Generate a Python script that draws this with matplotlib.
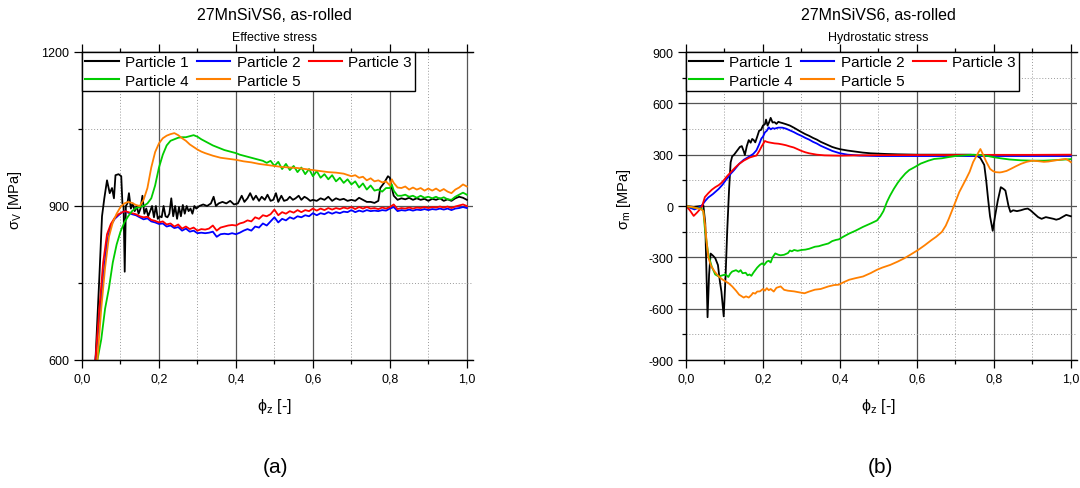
import matplotlib
matplotlib.use("Agg")
import matplotlib.pyplot as plt
from matplotlib.ticker import MultipleLocator, FuncFormatter

plt.rcParams['font.family'] = ['Liberation Sans', 'DejaVu Sans']
plt.rcParams['mathtext.fontset'] = 'custom'
plt.rcParams['mathtext.rm'] = 'Liberation Sans'
plt.rcParams['mathtext.it'] = 'Liberation Sans'
plt.rcParams['axes.unicode_minus'] = False

labels = ["Particle 1", "Particle 2", "Particle 3", "Particle 4", "Particle 5"]
colors = ["#000000", "#0000ff", "#ff0000", "#00cc00", "#ff8000"]

# ---------------- (a) effective stress ----------------
eff_x1 = [0.035, 0.045, 0.052, 0.058, 0.065, 0.072, 0.078, 0.083, 0.087, 0.095, 0.102, 0.105, 0.108, 0.111, 0.114,
          0.118, 0.122, 0.127, 0.132, 0.137, 0.142, 0.147, 0.152, 0.157, 0.162, 0.167, 0.172, 0.177, 0.182, 0.187,
          0.192, 0.197, 0.202, 0.207, 0.212, 0.217, 0.222, 0.227, 0.232, 0.237, 0.242, 0.247, 0.252, 0.257, 0.262,
          0.267, 0.272, 0.277, 0.282, 0.287, 0.292, 0.297, 0.305, 0.315, 0.325, 0.335, 0.342, 0.348, 0.355, 0.365,
          0.375, 0.385, 0.395, 0.405, 0.415, 0.422, 0.43, 0.437, 0.445, 0.452, 0.46, 0.467, 0.475, 0.482, 0.49,
          0.497, 0.504, 0.51, 0.518, 0.525, 0.533, 0.54, 0.548, 0.555, 0.563, 0.57, 0.578, 0.585, 0.593, 0.6,
          0.61, 0.62, 0.63, 0.64, 0.65, 0.66, 0.67, 0.68, 0.69, 0.70, 0.71, 0.72, 0.73, 0.74, 0.75, 0.76, 0.77,
          0.775, 0.785, 0.795, 0.80, 0.805, 0.81, 0.82, 0.83, 0.84, 0.85, 0.86, 0.87, 0.88, 0.89, 0.90, 0.91,
          0.92, 0.93, 0.94, 0.95, 0.96, 0.97, 0.98, 0.99, 1.0]
eff_y1 = [600, 760, 880, 915, 950, 925, 935, 915, 960, 962, 958, 905, 900, 772, 900,
          905, 925, 895, 905, 890, 900, 885, 895, 920, 885, 895, 880, 890, 900, 878,
          900, 875, 880, 878, 900, 880, 878, 885, 915, 880, 900, 875, 898, 880, 902,
          885, 900, 890, 895, 885, 900, 895, 900, 903, 900, 905, 918, 900, 905, 908,
          905, 910, 903, 905, 920, 908, 915, 925, 912, 920, 910, 918, 912, 922, 910,
          912, 925, 908, 920, 910, 912, 918, 912, 915, 920, 912, 918, 915, 910, 912,
          910, 915, 912, 918, 910, 915, 912, 914, 910, 912, 910, 916, 912, 908, 908, 906, 910,
          935, 945, 958, 955, 935, 920, 912, 915, 913, 916, 912, 915, 912, 914, 910, 914,
          912, 915, 910, 913, 910, 915, 918, 916, 912]

eff_x2 = [0.035, 0.045, 0.055, 0.065, 0.075, 0.085, 0.095, 0.105, 0.112, 0.12, 0.13, 0.14, 0.15, 0.16, 0.17,
          0.18, 0.19, 0.2, 0.21, 0.22, 0.23, 0.24, 0.25, 0.26, 0.27, 0.28, 0.29, 0.30, 0.31, 0.32, 0.33, 0.34,
          0.35, 0.36, 0.37, 0.38, 0.39, 0.40, 0.41, 0.42, 0.43, 0.44, 0.45, 0.46, 0.47, 0.48, 0.49, 0.50, 0.51,
          0.52, 0.53, 0.54, 0.55, 0.56, 0.57, 0.58, 0.59, 0.60, 0.61, 0.62, 0.63, 0.64, 0.65, 0.66, 0.67, 0.68,
          0.69, 0.70, 0.71, 0.72, 0.73, 0.74, 0.75, 0.76, 0.77, 0.78, 0.79, 0.80, 0.81, 0.82, 0.83, 0.84, 0.85,
          0.86, 0.87, 0.88, 0.89, 0.90, 0.91, 0.92, 0.93, 0.94, 0.95, 0.96, 0.97, 0.98, 0.99, 1.0]
eff_y2 = [600, 680, 760, 830, 862, 875, 882, 888, 890, 887, 884, 882, 878, 874, 876,
          870, 868, 865, 866, 860, 862, 857, 859, 852, 856, 850, 852, 847, 848, 847, 848, 850,
          840, 845, 846, 845, 847, 845, 848, 852, 855, 852, 860, 858, 866, 862, 870, 878, 868,
          875, 872, 878, 875, 880, 878, 882, 880, 886, 882, 886, 884, 888, 885, 888, 886, 889,
          888, 892, 888, 891, 889, 892, 890, 891, 890, 892, 891, 895, 898, 890, 892, 891, 893,
          891, 893, 892, 894, 892, 894, 893, 895, 893, 895, 892, 895, 896, 898, 896]

eff_x3 = eff_x2
eff_y3 = [600, 700, 790, 845, 865, 877, 884, 888, 890, 888, 886, 884, 880, 878, 879,
          873, 871, 868, 870, 864, 866, 860, 864, 856, 860, 855, 858, 852, 855, 854, 856, 862,
          852, 858, 860, 862, 863, 862, 866, 868, 872, 870, 878, 875, 882, 880, 884, 893, 882,
          888, 885, 890, 887, 892, 888, 892, 890, 895, 891, 895, 892, 896, 893, 896, 894, 897,
          895, 898, 894, 898, 895, 898, 895, 896, 894, 897, 895, 898, 903, 894, 896, 895, 897,
          895, 897, 896, 898, 896, 898, 897, 899, 897, 899, 896, 899, 901, 903, 900]

eff_x4 = [0.04, 0.05, 0.06, 0.07, 0.08, 0.09, 0.10, 0.11, 0.12, 0.13, 0.14, 0.15, 0.16, 0.17, 0.18, 0.19,
          0.20, 0.21, 0.22, 0.23, 0.24, 0.25, 0.26, 0.27, 0.28, 0.29, 0.30, 0.31, 0.32, 0.33, 0.34, 0.35,
          0.36, 0.37, 0.38, 0.39, 0.40, 0.41, 0.42, 0.43, 0.44, 0.45, 0.46, 0.47, 0.48, 0.49, 0.50, 0.51,
          0.52, 0.53, 0.54, 0.55, 0.56, 0.57, 0.58, 0.59, 0.60, 0.61, 0.62, 0.63, 0.64, 0.65, 0.66, 0.67,
          0.68, 0.69, 0.70, 0.71, 0.72, 0.73, 0.74, 0.75, 0.76, 0.77, 0.78, 0.79, 0.80, 0.805, 0.81, 0.82,
          0.83, 0.84, 0.85, 0.86, 0.87, 0.88, 0.89, 0.90, 0.91, 0.92, 0.93, 0.94, 0.95, 0.96, 0.97, 0.98,
          0.99, 1.0]
eff_y4 = [600, 640, 700, 740, 790, 825, 850, 868, 880, 890, 896, 898, 900, 905, 915, 940,
          975, 1000, 1018, 1027, 1030, 1033, 1034, 1034, 1036, 1038, 1035, 1030, 1026, 1022, 1018, 1015,
          1012, 1009, 1007, 1005, 1003, 1000, 998, 996, 994, 992, 990, 988, 984, 988, 978, 986,
          972, 982, 970, 978, 966, 975, 962, 972, 958, 968, 955, 962, 952, 960, 948, 955,
          945, 952, 942, 948, 936, 944, 932, 940, 930, 932, 928, 935, 935, 942, 930, 920,
          920, 922, 918, 920, 916, 920, 916, 918, 915, 918, 914, 917, 913, 912, 918, 922,
          926, 922]

eff_x5 = [0.04, 0.05, 0.06, 0.07, 0.08, 0.09, 0.10, 0.11, 0.12, 0.13, 0.14, 0.15, 0.16, 0.17, 0.18, 0.19,
          0.20, 0.21, 0.22, 0.23, 0.24, 0.25, 0.26, 0.27, 0.28, 0.29, 0.30, 0.31, 0.32, 0.34, 0.36, 0.38,
          0.40, 0.42, 0.44, 0.46, 0.48, 0.50, 0.52, 0.54, 0.56, 0.58, 0.60, 0.62, 0.64, 0.66, 0.68, 0.70,
          0.71, 0.72, 0.73, 0.74, 0.75, 0.76, 0.77, 0.78, 0.79, 0.80, 0.805, 0.81, 0.82, 0.83, 0.84, 0.85,
          0.86, 0.87, 0.88, 0.89, 0.90, 0.91, 0.92, 0.93, 0.94, 0.95, 0.96, 0.97, 0.98, 0.99, 1.0]
eff_y5 = [600, 700, 780, 840, 868, 885, 898, 905, 908, 906, 902, 900, 912, 935, 975, 1005,
          1022, 1032, 1037, 1040, 1042, 1038, 1032, 1027, 1020, 1015, 1010, 1006, 1003, 998, 994, 992,
          990, 987, 985, 982, 980, 978, 976, 975, 974, 972, 970, 968, 966, 965, 963, 958,
          960, 955, 957, 950, 954, 948, 950, 946, 948, 940, 952, 945, 936, 935, 938, 932,
          936, 932, 935, 930, 934, 930, 934, 929, 933, 928, 925, 932, 936, 942, 938]

# ---------------- (b) hydrostatic stress ----------------
hyd_x1 = [0.0, 0.02, 0.04, 0.045, 0.05, 0.056, 0.06, 0.064, 0.07, 0.076, 0.083, 0.088, 0.092, 0.098, 0.103,
          0.107, 0.112, 0.116, 0.12, 0.125, 0.13, 0.135, 0.14, 0.145, 0.15, 0.153, 0.158, 0.163, 0.168, 0.172,
          0.176, 0.18, 0.185, 0.19, 0.195, 0.2, 0.205, 0.208, 0.212, 0.216, 0.22, 0.225, 0.23, 0.235, 0.24,
          0.245, 0.25, 0.26, 0.27, 0.28, 0.29, 0.30, 0.31, 0.32, 0.33, 0.34, 0.35, 0.36, 0.37, 0.38, 0.39,
          0.40, 0.42, 0.44, 0.46, 0.48, 0.50, 0.52, 0.55, 0.6, 0.65, 0.7, 0.74, 0.755, 0.765, 0.775, 0.78,
          0.785, 0.79, 0.797, 0.803, 0.81, 0.818, 0.825, 0.83, 0.838, 0.843, 0.85, 0.86, 0.87, 0.88, 0.888,
          0.895, 0.905, 0.915, 0.924, 0.935, 0.945, 0.955, 0.962, 0.97, 0.98, 0.988, 1.0]
hyd_y1 = [0, -5, 0, 5, -100, -650, -400, -278, -290, -305, -345, -440, -500, -645, -400,
          -150, 100, 255, 290, 300, 315, 330, 345, 350, 320, 298, 350, 385, 370, 392,
          385, 372, 405, 440, 445, 470, 478, 505, 470, 490, 515, 488, 490, 480, 492,
          488, 485, 478, 470, 458, 445, 432, 420, 410, 398, 388, 375, 365, 355, 345, 338,
          332, 324, 318, 312, 308, 306, 304, 302, 300, 300, 300, 300, 295, 280, 240, 150,
          40, -60, -145, -60, 30, 110, 100, 90, 0, -35, -25, -30, -25, -18, -15,
          -25, -45, -65, -75, -65, -70, -75, -80, -75, -62, -52, -60]

hyd_x2 = [0.0, 0.01, 0.022, 0.03, 0.04, 0.05, 0.058, 0.07, 0.085, 0.095, 0.103, 0.11, 0.116, 0.125, 0.138,
          0.15, 0.165, 0.175, 0.183, 0.19, 0.196, 0.2, 0.205, 0.21, 0.215, 0.22, 0.225, 0.23, 0.24, 0.25,
          0.26, 0.27, 0.28, 0.29, 0.30, 0.31, 0.32, 0.33, 0.34, 0.35, 0.36, 0.37, 0.38, 0.39, 0.40, 0.42,
          0.45, 0.5, 0.6, 0.7, 0.8, 0.9, 1.0]
hyd_y2 = [0, -10, -20, -12, 0, 30, 50, 70, 100, 125, 150, 170, 188, 210, 246,
          270, 290, 305, 325, 360, 395, 405, 430, 440, 460, 448, 455, 452, 458, 458,
          452, 442, 432, 420, 410, 398, 388, 375, 365, 352, 342, 332, 322, 315, 308, 300,
          295, 292, 292, 292, 292, 292, 292]

hyd_x3 = [0.0, 0.01, 0.02, 0.028, 0.036, 0.042, 0.049, 0.058, 0.067, 0.076, 0.085, 0.092, 0.098, 0.105, 0.116,
          0.128, 0.138, 0.15, 0.165, 0.175, 0.183, 0.19, 0.197, 0.205, 0.21, 0.215, 0.22, 0.23, 0.24, 0.25,
          0.26, 0.27, 0.28, 0.29, 0.30, 0.31, 0.32, 0.33, 0.34, 0.36, 0.4, 0.45, 0.5, 0.6, 0.7, 0.8, 0.9, 1.0]
hyd_y3 = [0, -25, -58, -40, -20, 0, 52, 75, 95, 110, 122, 135, 150, 170, 197,
          225, 246, 265, 283, 290, 295, 320, 350, 380, 375, 372, 370, 366, 364, 360,
          355, 348, 342, 332, 322, 314, 308, 304, 300, 296, 294, 296, 297, 298, 298, 299, 299, 300]

hyd_x4 = [0.0, 0.02, 0.04, 0.045, 0.049, 0.053, 0.058, 0.067, 0.076, 0.085, 0.095, 0.103, 0.11, 0.115, 0.12,
          0.13, 0.137, 0.142, 0.147, 0.155, 0.16, 0.165, 0.17, 0.175, 0.18, 0.185, 0.192, 0.198, 0.203, 0.21,
          0.215, 0.22, 0.225, 0.232, 0.24, 0.246, 0.255, 0.265, 0.27, 0.275, 0.281, 0.29, 0.3, 0.31, 0.32,
          0.335, 0.345, 0.355, 0.37, 0.38, 0.39, 0.397, 0.41, 0.424, 0.44, 0.46, 0.48, 0.496, 0.505, 0.513,
          0.522, 0.53, 0.54, 0.55, 0.558, 0.57, 0.58, 0.594, 0.61, 0.63, 0.645, 0.665, 0.68, 0.7, 0.72,
          0.746, 0.76, 0.78, 0.8, 0.817, 0.84, 0.87, 0.9, 0.93, 0.96, 1.0]
hyd_y4 = [0, -10, -15, -30, -130, -200, -285, -355, -400, -412, -405, -400, -415, -395, -383,
          -375, -385, -375, -393, -390, -405, -400, -408, -390, -375, -360, -344, -335, -345, -325,
          -320, -330, -300, -277, -285, -288, -285, -275, -260, -265, -257, -262, -257, -255, -250,
          -238, -235, -228, -219, -205, -198, -195, -178, -161, -145, -122, -102, -85, -60, -30,
          23, 60, 100, 135, 159, 190, 210, 227, 248, 265, 275, 279, 285, 292, 295,
          300, 298, 294, 285, 279, 272, 267, 265, 265, 268, 274]

hyd_x5 = [0.0, 0.02, 0.04, 0.045, 0.05, 0.054, 0.058, 0.065, 0.075, 0.085, 0.095, 0.103, 0.11, 0.12, 0.13,
          0.138, 0.145, 0.15, 0.156, 0.163, 0.17, 0.174, 0.18, 0.185, 0.192, 0.2, 0.205, 0.21, 0.215, 0.22,
          0.228, 0.235, 0.246, 0.255, 0.265, 0.281, 0.295, 0.308, 0.32, 0.335, 0.35, 0.37, 0.385, 0.397, 0.41,
          0.424, 0.44, 0.46, 0.48, 0.496, 0.51, 0.531, 0.55, 0.567, 0.585, 0.603, 0.62, 0.638, 0.65, 0.665,
          0.675, 0.683, 0.696, 0.71, 0.728, 0.737, 0.746, 0.755, 0.765, 0.772, 0.78, 0.79, 0.797, 0.804, 0.815,
          0.821, 0.833, 0.844, 0.857, 0.87, 0.885, 0.9, 0.915, 0.93, 0.942, 0.955, 0.97, 0.987, 0.995, 1.0]
hyd_y5 = [0, -8, -20, -30, -120, -220, -300, -350, -385, -412, -430, -441, -450, -470, -495,
          -518, -528, -535, -528, -535, -520, -508, -512, -500, -499, -485, -495, -480, -492, -485,
          -500, -478, -470, -490, -495, -499, -505, -510, -500, -489, -485, -470, -462, -460, -445,
          -431, -422, -412, -392, -373, -360, -344, -325, -306, -282, -257, -230, -199, -180, -151,
          -115, -74, 0, 81, 159, 200, 256, 294, 333, 300, 260, 217, 205, 198, 196,
          198, 205, 217, 232, 246, 258, 265, 262, 258, 260, 265, 270, 275, 265, 256]

eff_x = [eff_x1, eff_x2, eff_x3, eff_x4, eff_x5]
eff_y = [eff_y1, eff_y2, eff_y3, eff_y4, eff_y5]
hyd_x = [hyd_x1, hyd_x2, hyd_x3, hyd_x4, hyd_x5]
hyd_y = [hyd_y1, hyd_y2, hyd_y3, hyd_y4, hyd_y5]

W, H = 1080, 489
fig = plt.figure(figsize=(W / 100, H / 100), dpi=100)

ax_a = fig.add_axes([82 / W, 1 - 361 / H, 391 / W, 308 / H])
ax_b = fig.add_axes([686 / W, 1 - 361 / H, 391 / W, 308 / H])

comma = FuncFormatter(lambda v, p: f"{v:.1f}".replace(".", ","))


def style(ax, ylim, ymaj, ymin):
    ax.set_xlim(0, 1.016)
    ax.set_ylim(*ylim)
    ax.xaxis.set_major_locator(MultipleLocator(0.2))
    ax.xaxis.set_minor_locator(MultipleLocator(0.1))
    ax.yaxis.set_major_locator(MultipleLocator(ymaj))
    ax.yaxis.set_minor_locator(MultipleLocator(ymin))
    ax.xaxis.set_major_formatter(comma)
    ax.grid(which='major', color='#555555', linewidth=0.9, linestyle='-')
    ax.grid(which='minor', color='#9a9a9a', linewidth=0.7, linestyle=(0, (1, 2)))
    ax.set_axisbelow(True)
    ax.spines['right'].set_visible(False)
    for s in ['left', 'bottom', 'top']:
        ax.spines[s].set_linewidth(1.0)
    ax.tick_params(which='both', direction='out', top=True, labeltop=False, right=False,
                   labelsize=9, width=0.9, colors='black')
    ax.tick_params(which='major', length=5.5)
    ax.tick_params(which='minor', length=3)


# legend filled row-wise like the reference: row 1 = P1 P2 P3, row 2 = P4 P5
leg_order = [0, 3, 1, 4, 2]

for ax, xs, ys in [(ax_a, eff_x, eff_y), (ax_b, hyd_x, hyd_y)]:
    handles = []
    for x, y, c, lab in zip(xs, ys, colors, labels):
        h, = ax.plot(x, y, color=c, linewidth=1.3, label=lab)
        handles.append(h)
    leg = ax.legend([handles[i] for i in leg_order], [labels[i] for i in leg_order],
                    loc='upper left', bbox_to_anchor=(0, 1), borderaxespad=0, ncol=3, fontsize=11,
                    frameon=True, fancybox=False, framealpha=1, edgecolor='black',
                    handlelength=2.2, handletextpad=0.4, columnspacing=0.55,
                    labelspacing=0.3, borderpad=0.2)
    leg.get_frame().set_linewidth(1.0)
    for line in leg.get_lines():
        line.set_linewidth(1.5)

style(ax_a, (600, 1200), 300, 150)
style(ax_b, (-900, 900), 300, 150)

# titles and labels
for xc, sub in [((82 + 467) / 2 / W, "Effective stress"), ((686 + 1071) / 2 / W, "Hydrostatic stress")]:
    fig.text(xc, 1 - 15 / H, "27MnSiVS6, as-rolled", ha='center', va='center', fontsize=11.5)
    fig.text(xc, 1 - 38 / H, sub, ha='center', va='center', fontsize=9)
    fig.text(xc, 1 - 407 / H, r"ϕ$_\mathregular{z}$ [-]", ha='center', va='center', fontsize=11.5)

fig.text(15 / W, 1 - 200 / H, r"σ$_\mathregular{V}$ [MPa]", ha='center', va='center', rotation=90, fontsize=10.5)
fig.text(624 / W, 1 - 199 / H, r"σ$_\mathregular{m}$ [MPa]", ha='center', va='center', rotation=90, fontsize=10.5)

fig.text(275 / W, 1 - 468 / H, "(a)", ha='center', va='center', fontsize=15)
fig.text(880 / W, 1 - 468 / H, "(b)", ha='center', va='center', fontsize=15)

fig.savefig("out.png", dpi=100)
